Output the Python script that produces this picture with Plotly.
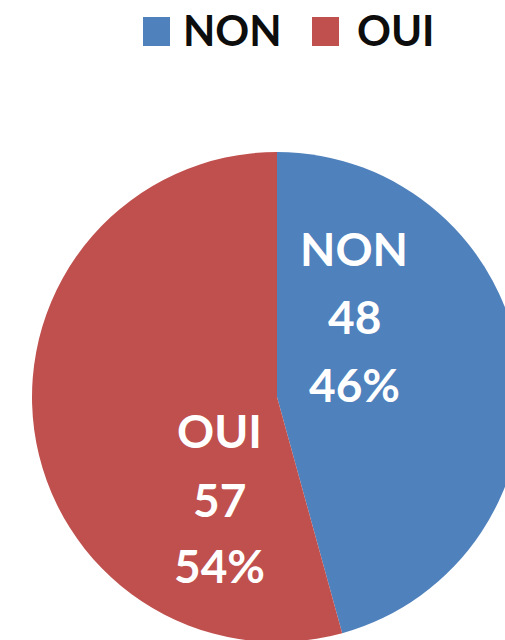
import plotly.graph_objects as go

# ---- data ----
labels = ["NON", "OUI"]
values = [48, 57]
colors = ["#4F81BD", "#C0504D"]

total = sum(values)
percents = [round(v / total * 100) for v in values]

W, H = 530, 650
FONT = "Lato"

def px(x):
    return x / W

def py(y):
    return 1 - y / H

# pie placement (pixels from top-left)
cx, cy, r = 277, 397, 245

fig = go.Figure(
    go.Pie(
        labels=labels,
        values=values,
        marker=dict(colors=colors, line=dict(width=0)),
        sort=False,
        direction="clockwise",
        rotation=0,
        textinfo="none",
        hoverinfo="label+value+percent",
        showlegend=False,
        domain=dict(x=[px(cx - r), px(cx + r)], y=[py(cy + r), py(cy - r)]),
    )
)

annotations = []
# in-slice labels: each line separately (label / value / percent)
label_pos = [
    (354, [248, 317, 384]),
    (219, [430, 499, 565.5]),
]
for i, (xc, ys) in enumerate(label_pos):
    lines = [labels[i], str(values[i]), f"{percents[i]}%"]
    for txt, yc in zip(lines, ys):
        annotations.append(dict(
            x=px(xc), y=py(yc), xref="paper", yref="paper",
            text=f"<b>{txt}</b>", showarrow=False,
            xanchor="center", yanchor="middle",
            font=dict(family=FONT, size=46, color="white"),
        ))

# custom legend at top
legend_items = [(143, 183), (312, 357)]
shapes = []
for i, (sx, tx) in enumerate(legend_items):
    shapes.append(dict(
        type="rect", xref="paper", yref="paper",
        x0=px(sx), x1=px(sx + 27), y0=py(46), y1=py(17),
        fillcolor=colors[i], line=dict(width=0),
    ))
    annotations.append(dict(
        x=px(tx - 2), y=py(30), xref="paper", yref="paper",
        text=f"<b>{labels[i]}</b>", showarrow=False,
        xanchor="left", yanchor="middle",
        font=dict(family=FONT, size=42, color="#0d0d0d"),
    ))

fig.update_layout(
    width=W, height=H,
    margin=dict(l=0, r=0, t=0, b=0),
    paper_bgcolor="white",
    plot_bgcolor="white",
    annotations=annotations,
    shapes=shapes,
)

fig.write_html(
    "out.html",
    config={"displayModeBar": False},
    post_script=(
        "document.body.style.margin='0';"
        "document.body.style.overflow='hidden';"
        "document.documentElement.style.overflow='hidden';"
    ),
)
